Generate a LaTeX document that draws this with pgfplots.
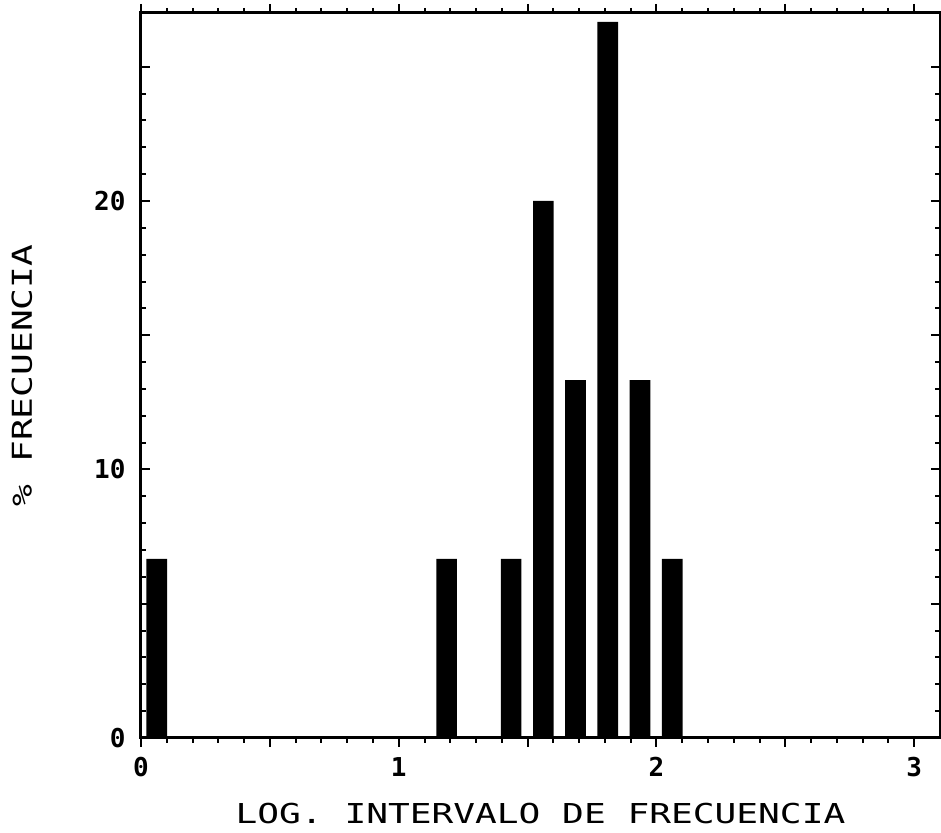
\documentclass[border=0pt]{standalone}
\usepackage{fontspec}
\newfontfamily\labelfont{DejaVu Sans Mono}[FakeStretch=1.32]
\newfontfamily\tickfont{DejaVu Sans Mono Bold}
\usepackage{pgfplots}
\pgfplotsset{compat=1.18}

\begin{document}
\begin{tikzpicture}
\useasboundingbox (-70.5pt,-47.5pt) rectangle (400pt,369pt);
\begin{axis}[
    scale only axis,
    width=399.5pt, height=362.5pt,
    xmin=0, xmax=3.1, ymin=0, ymax=27,
    axis line style={line width=1.5pt},
    tick align=inside,
    xtick={0,0.5,...,3}, xticklabels={0,,1,,2,,3},
    ytick={0,5,...,25}, yticklabels={0,,10,,20,},
    minor x tick num=4, minor y tick num=4,
    major tick length=4.5pt, minor tick length=2.5pt,
    every tick/.style={black, line width=1pt},
    ticklabel style={font=\tickfont\fontsize{13}{14}\selectfont},
    xticklabel style={yshift=-1.5pt},
    yticklabel style={xshift=-4.2pt},
    /pgf/number format/assume math mode=true,
    xlabel={LOG. INTERVALO DE FRECUENCIA},
    ylabel={\% FRECUENCIA},
    every axis x label/.style={at={(axis description cs:0.5,-0.104)}, anchor=center,
        font=\labelfont\fontsize{13.7}{15}\selectfont},
    every axis y label/.style={at={(axis description cs:-0.149,0.5)}, rotate=90, anchor=center,
        font=\labelfont\fontsize{13.7}{15}\selectfont},
    ybar, bar width=0.08,
]
% histograma: % de frecuencia por intervalo (log)
\addplot[fill=black, draw=none] coordinates {
    (0.061,6.67) (1.186,6.67) (1.436,6.67) (1.561,20.0)
    (1.686,13.33) (1.811,26.67) (1.936,13.33) (2.061,6.67)
};
\end{axis}
\end{tikzpicture}
\end{document}
